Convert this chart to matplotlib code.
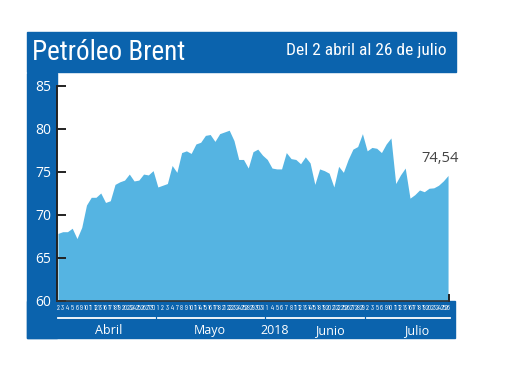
import matplotlib.pyplot as plt
import matplotlib.transforms as mtransforms
from matplotlib.patches import Rectangle
from matplotlib.lines import Line2D
from matplotlib import font_manager

# Brent crude, trading days 2 April - 26 July 2018
months = ["Abril", "Mayo", "Junio", "Julio"]
days_abr = [2, 3, 4, 5, 6, 9, 10, 11, 12, 13, 16, 17, 18, 19, 20, 23, 24, 25, 26, 27, 30]
days_may = [1, 2, 3, 4, 7, 8, 9, 10, 11, 14, 15, 16, 17, 18, 21, 22, 23, 24, 25, 28, 29, 30, 31]
days_jun = [1, 4, 5, 6, 7, 8, 11, 12, 13, 14, 15, 18, 19, 20, 21, 22, 25, 26, 27, 28, 29]
days_jul = [2, 3, 5, 6, 9, 10, 11, 12, 13, 16, 17, 18, 19, 20, 23, 24, 25, 26]

price_abr = [67.8, 68.0, 68.0, 68.4, 67.2, 68.5, 71.1, 72.0, 72.0, 72.5, 71.4,
             71.6, 73.5, 73.8, 74.0, 74.7, 73.9, 74.0, 74.7, 74.6, 75.1]
price_may = [73.2, 73.4, 73.6, 75.7, 74.9, 77.2, 77.4, 77.1, 78.2, 78.4, 79.2, 79.3,
             78.5, 79.4, 79.6, 79.8, 78.6, 76.4, 76.4, 75.4, 77.3, 77.6, 76.9]
price_jun = [76.4, 75.4, 75.3, 75.3, 77.2, 76.5, 76.4, 75.9, 76.7, 76.0, 73.5,
             75.3, 75.1, 74.8, 73.2, 75.6, 74.9, 76.4, 77.6, 77.9, 79.4]
price_jul = [77.4, 77.8, 77.7, 77.2, 78.2, 78.9, 73.6, 74.6, 75.4, 71.9, 72.3,
             72.85, 72.65, 73.05, 73.1, 73.4, 73.9, 74.54]

yticks = [60, 65, 70, 75, 80, 85]
last_label = "74,54"

installed = {f.name for f in font_manager.fontManager.ttflist}


def pick(*names):
    for n in names:
        if n in installed:
            return n
    return "DejaVu Sans"


COND = pick("Roboto Condensed", "PT Sans Narrow", "Open Sans Condensed", "Asap Condensed")
XCOND = pick("Saira Extra Condensed", "Barlow Condensed", "Roboto Condensed", "Asap Condensed")
PLAIN = pick("Open Sans", "Liberation Sans")

BLUE = "#0b63ad"
FILL = "#55b4e2"

W, H = 520, 390
fig = plt.figure(figsize=(W / 100, H / 100), dpi=100)


def box(x0, y0, x1, y1):
    fig.patches.append(Rectangle((x0 / W, 1 - y1 / H), (x1 - x0) / W, (y1 - y0) / H,
                                 transform=fig.transFigure, color=BLUE, zorder=-1))


box(27, 32, 456, 72)    # title bar
box(27, 73, 57, 338)    # left column
box(27, 301, 455, 338)  # bottom band

fig.text(32 / W, 1 - 52 / H, "Petróleo Brent", color="white", fontsize=19.5,
         family=COND, va="center", ha="left")
fig.text(447 / W, 1 - 51 / H, "Del 2 abril al 26 de julio", color="white", fontsize=12.5,
         family=COND, va="center", ha="right")

all_days = days_abr + days_may + days_jun + days_jul
prices = price_abr + price_may + price_jun + price_jul
idx = list(range(len(prices)))

ax = fig.add_axes([57 / W, 1 - 300.5 / H, (449 - 57) / W, (300.5 - 85.5) / H])
ax.fill_between(idx, prices, 60, color=FILL, linewidth=0)
ax.set_ylim(60, 85)
ax.set_xlim(-0.2, len(prices) - 0.8)

ax.set_yticks(yticks)
ax.set_yticklabels([str(v) for v in yticks], family=PLAIN, fontsize=10, color="white")
ax.tick_params(axis="y", direction="in", length=6.5, width=1.4, color="#222222", pad=4)
ax.set_xticks([])
for s in ["top", "right"]:
    ax.spines[s].set_visible(False)
ax.spines["left"].set_color("#222222")
ax.spines["left"].set_linewidth(1.4)
ax.spines["bottom"].set_color("#333333")
ax.spines["bottom"].set_linewidth(1.2)
ax.axvline(len(prices) - 0.8, ymax=0.025, color="#222222", lw=1.4, clip_on=False)

trans = mtransforms.blended_transform_factory(ax.transData, ax.transAxes)

# day numbers
for i, d in zip(idx, all_days):
    ax.text(i, -0.037, str(d), transform=trans, color="white", fontsize=5.3,
            family=XCOND, ha="center", va="center")

# month underlines
start = 0
for days in [days_abr, days_may, days_jun, days_jul]:
    end = start + len(days) - 1
    ax.add_line(Line2D([start, end + 0.35], [-0.081, -0.081], transform=trans,
                       color="white", lw=1.3, clip_on=False))
    start = end + 1

label_x = [10.7, 32.0, 57.2, 75.3]
for m, x in zip(months, label_x):
    ax.text(x, -0.138, m, transform=trans, color="white", fontsize=9,
            family=PLAIN, ha="center", va="center")
ax.text(45.6, -0.138, "2018", transform=trans, color="white", fontsize=9,
        family=PLAIN, ha="center", va="center")

ax.annotate(last_label, (idx[-1], prices[-1]), xytext=(11, 9), textcoords="offset pixels",
            ha="right", va="bottom", fontsize=10.5, color="#444444",
            family=PLAIN, annotation_clip=False)

fig.savefig("out.png", dpi=100)
